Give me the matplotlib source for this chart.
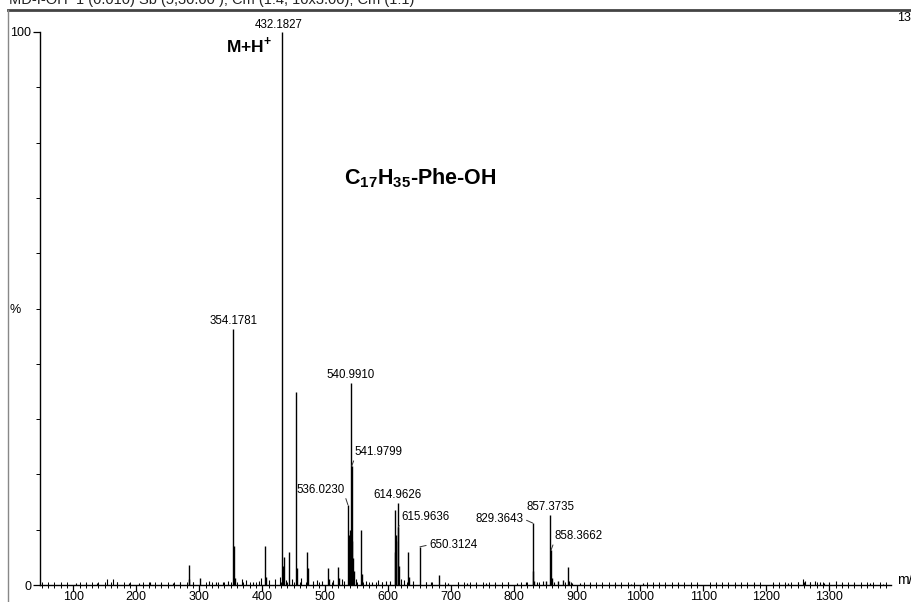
import matplotlib
matplotlib.use("Agg")
import matplotlib.pyplot as plt
from matplotlib.lines import Line2D
from matplotlib.ticker import MultipleLocator, FixedLocator

plt.rcParams['font.family'] = ['Liberation Sans', 'DejaVu Sans']
plt.rcParams['mathtext.fontset'] = 'custom'
plt.rcParams['mathtext.rm'] = 'Liberation Sans'
plt.rcParams['mathtext.bf'] = 'Liberation Sans:bold'

# Labelled peaks (m/z, relative intensity %)
label_mz = [432.1827, 354.1781, 540.9910, 541.9799, 536.0230,
            614.9626, 615.9636, 650.3124, 829.3643, 857.3735, 858.3662]
label_int = [100.0, 46.3, 36.5, 21.5, 14.5,
             14.8, 10.5, 6.9, 11.2, 12.7, 6.3]

# Unlabelled peaks (m/z, relative intensity %)
other_mz = [454.16, 355.18, 356.18, 433.19, 434.2, 443.0, 455.16, 471.0, 473.0,
            404.0, 406.0, 283.0, 284.0, 302.0, 505.0, 506.0, 521.0, 522.0,
            537.0, 538.0, 539.0, 542.98, 544.0, 545.0, 557.0, 558.0,
            610.0, 611.0, 612.0, 613.0, 617.0, 632.0, 633.0, 681.0,
            830.4, 831.4, 886.0, 887.0, 859.4, 870.0, 877.0, 850.0]
other_int = [34.9, 7.0, 1.2, 3.5, 5.0, 6.0, 3.0, 6.0, 3.0,
             7.0, 1.5, 3.6, 1.0, 1.3, 3.1, 1.0, 3.3, 1.2,
             9.0, 7.5, 10.0, 8.0, 4.9, 2.5, 10.0, 2.0,
             13.6, 6.0, 9.0, 8.0, 3.5, 6.0, 1.5, 1.8,
             2.5, 0.8, 3.3, 0.8, 1.2, 0.8, 0.9, 0.7]

# Low-level baseline peaks
noise_mz = [105, 120, 137, 154, 163, 170, 188, 205, 222, 240, 258, 270, 290,
            315, 326, 338, 345, 368, 375, 385, 395, 398, 410, 420, 428, 438,
            448, 462, 480, 487, 495, 512, 527, 530, 549, 565, 575, 583, 590,
            597, 603, 620, 625, 640, 660, 668, 695, 710, 725, 740, 755, 770,
            790, 805, 818, 836, 845, 863, 892, 905, 920, 940, 960, 985, 1005,
            1030, 1060, 1090, 1120, 1150, 1180, 1210, 1235, 1250, 1258, 1262,
            1270, 1278, 1285, 1292, 1300, 1310, 1320, 1340, 1365, 1385]
noise_int = [0.3, 0.4, 0.3, 1.0, 1.1, 0.5, 0.4, 0.3, 0.5, 0.4, 0.3, 0.6, 0.5,
             0.7, 0.6, 0.5, 0.8, 1.0, 0.9, 0.6, 0.7, 1.2, 0.9, 1.1, 1.5, 0.9,
             1.0, 1.2, 0.8, 0.9, 0.7, 0.9, 1.0, 0.8, 1.0, 0.8, 0.6, 0.9, 0.5,
             0.7, 0.8, 1.0, 0.9, 0.7, 0.6, 0.5, 0.4, 0.5, 0.3, 0.4, 0.3, 0.4,
             0.5, 0.3, 0.6, 0.5, 0.7, 0.6, 0.4, 0.3, 0.3, 0.2, 0.3, 0.2, 0.3,
             0.2, 0.3, 0.2, 0.3, 0.2, 0.3, 0.3, 0.4, 0.6, 1.0, 0.8, 0.5, 0.7,
             0.5, 0.4, 0.6, 0.8, 0.4, 0.3, 0.3, 0.2]

x_ticks = [100, 200, 300, 400, 500, 600, 700, 800, 900, 1000, 1100, 1200, 1300]
y_ticks = [0, 100]

# Text placement for each labelled peak: (dx, dy) in pixels, ha, va, leader
label_layout = {
    432.1827: (-4, 1, 'center', 'bottom', False),
    354.1781: (0, 2, 'center', 'bottom', False),
    540.9910: (0, 2, 'center', 'bottom', False),
    541.9799: (3, 8, 'left', 'bottom', True),
    536.0230: (-3, 9, 'right', 'bottom', True),
    614.9626: (0, 2, 'center', 'bottom', False),
    615.9636: (3, 4, 'left', 'bottom', True),
    650.3124: (9, 2, 'left', 'center', True),
    829.3643: (-9, 4, 'right', 'center', True),
    857.3735: (0, 2, 'center', 'bottom', False),
    858.3662: (3, 8, 'left', 'bottom', True),
}

W, H = 911, 602
fig = plt.figure(figsize=(W / 100, H / 100), dpi=100)
fig.patch.set_facecolor('white')

ax = fig.add_axes([39.5 / W, 1 - 585 / H, (891 - 39.5) / W, (585 - 32) / H])
ax.set_xlim(46.5, 1398)
ax.set_ylim(0, 100)

ax.vlines(noise_mz, 0, noise_int, color='black', lw=0.8)
ax.vlines(other_mz, 0, other_int, color='black', lw=1.0)
ax.vlines(label_mz, 0, label_int, color='black', lw=1.0)

for mz, val in zip(label_mz, label_int):
    dx, dy, ha, va, leader = label_layout[mz]
    relx = {'left': 0.0, 'right': 1.0, 'center': 0.5}[ha]
    rely = {'bottom': 0.0, 'center': 0.5}[va]
    props = dict(arrowstyle='-', color='#333333', lw=0.7, relpos=(relx, rely),
                 shrinkA=0, shrinkB=0) if leader else None
    ax.annotate(f"{mz:.4f}", xy=(mz, val), xytext=(dx, dy),
                textcoords='offset pixels', ha=ha, va=va, fontsize=8.3,
                arrowprops=props)

for side in ['top', 'right']:
    ax.spines[side].set_visible(False)
for side in ['left', 'bottom']:
    ax.spines[side].set_linewidth(1.0)
    ax.spines[side].set_color('black')

ax.xaxis.set_major_locator(FixedLocator(x_ticks))
ax.xaxis.set_minor_locator(MultipleLocator(10))
ax.set_xticklabels([str(t) for t in x_ticks])
ax.yaxis.set_major_locator(FixedLocator(y_ticks))
ax.yaxis.set_minor_locator(MultipleLocator(10))
ax.set_yticklabels([str(t) for t in y_ticks])
ax.tick_params(axis='x', which='major', direction='out', length=4, width=0.9,
               labelsize=9, pad=0.5)
ax.tick_params(axis='x', which='minor', direction='inout', length=4, width=0.7)
ax.tick_params(axis='y', which='major', direction='out', length=5, width=0.9,
               labelsize=9, pad=1)
ax.tick_params(axis='y', which='minor', direction='out', length=3, width=0.7)

# Page furniture
fig.add_artist(Line2D([8 / W, 1.0], [1 - 10 / H] * 2, color='#444444', lw=2.0))
fig.add_artist(Line2D([8 / W, 8 / W], [0, 1 - 10 / H], color='#888888', lw=1.0))
fig.text(9 / W, 1 - 4 / H, "MD-I-OH  1 (0.010) Sb (5,30.00 ); Cm (1:4, 10x3.00); Cm (1:1)",
         fontsize=10.5, ha='left', va='baseline', color='#222222')
fig.text(897 / W, 1 - 18 / H, "13.9", fontsize=9, ha='left', va='center')
fig.text(15 / W, 1 - 310 / H, "%", fontsize=9, ha='center', va='center')
fig.text(897 / W, 1 - 580 / H, "m/z", fontsize=10, ha='left', va='center')

fig.text(249 / W, 1 - 45 / H, r"M+H$^{\mathbf{+}}$", fontsize=12.5,
         fontweight='bold', ha='center', va='center')
fig.text(420 / W, 1 - 178 / H, r"$\mathbf{C_{17}H_{35}}$-Phe-OH", fontsize=15.5,
         fontweight='bold', ha='center', va='center')

fig.savefig("out.png", dpi=100, facecolor='white')
